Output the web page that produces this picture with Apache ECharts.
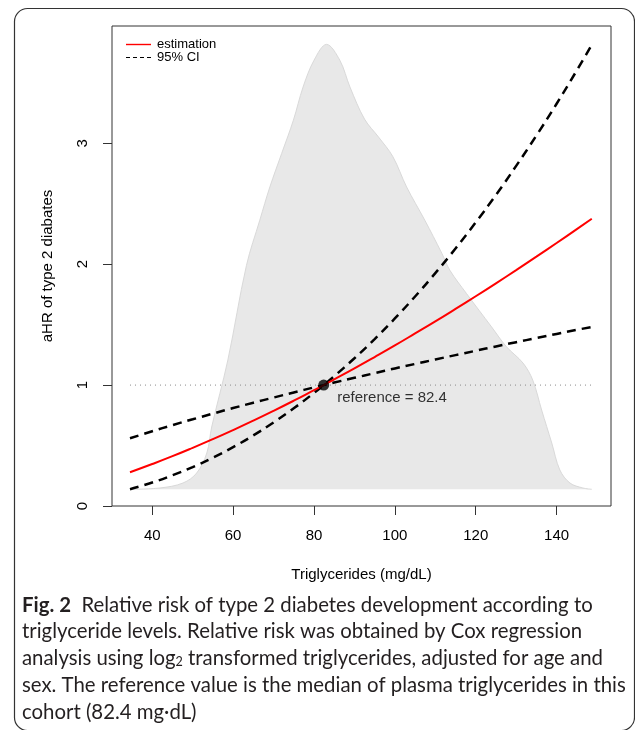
<!DOCTYPE html>
<html>
<head>
<meta charset="utf-8">
<script src="https://cdn.jsdelivr.net/npm/echarts@6/dist/echarts.min.js"></script>
<style>
  html, body { margin: 0; padding: 0; background: #fff; }
  #chart { width: 635px; height: 730px; }
</style>
</head>
<body>
<div id="chart"></div>
<script>
// triglycerides (mg/dL) where the curves were read
const tgGrid = [34.5, 40, 45, 50, 55, 60, 65, 70, 75, 80, 82.4, 85, 90, 95, 100,
  105, 110, 115, 120, 125, 130, 135, 140, 145, 148.7];
// adjusted hazard ratio, estimate
const hrEstimate = [0.279, 0.347, 0.412, 0.481, 0.553, 0.628, 0.706, 0.787, 0.871, 0.958, 1,
  1.047, 1.138, 1.232, 1.328, 1.427, 1.527, 1.630, 1.735, 1.842, 1.951, 2.062, 2.175, 2.290, 2.376];
// 95% CI bounds (they cross at the reference value)
const ciSteep = [0.139, 0.194, 0.254, 0.322, 0.400, 0.487, 0.584, 0.691, 0.808, 0.935, 1,
  1.073, 1.222, 1.381, 1.551, 1.733, 1.926, 2.130, 2.346, 2.573, 2.813, 3.064, 3.327, 3.603, 3.815];
const ciShallow = [0.560, 0.618, 0.669, 0.717, 0.764, 0.810, 0.854, 0.897, 0.939, 0.981, 1,
  1.021, 1.060, 1.099, 1.138, 1.175, 1.212, 1.248, 1.284, 1.320, 1.355, 1.389, 1.423, 1.457, 1.481];

// triglyceride distribution (grey density in the background)
const densityX = [34.5, 41.9, 47.6, 51.0, 53.5, 54.7, 58.7, 63.3, 66.6, 69.1, 72.0, 74.9, 77.3, 80.0,
  83.1, 86.4, 88.9, 92.5, 96.0, 99.5, 102.9, 107.4, 111.6, 113.6, 117.7, 123.9, 127.6, 131.7,
  134.1, 136.3, 138.8, 140.8, 143.3, 146.5, 148.7];
const densityY = [0.138, 0.149, 0.190, 0.273, 0.438, 0.653, 1.207, 1.99, 2.364, 2.640, 2.915, 3.190, 3.465, 3.686,
  3.818, 3.686, 3.465, 3.200, 3.050, 2.890, 2.639, 2.364, 2.091, 1.950, 1.758, 1.482, 1.317, 1.182,
  1.041, 0.793, 0.521, 0.298, 0.190, 0.149, 0.138];
const densityBase = 0.138;

const referenceTG = 82.4;
const xTicks = [40, 60, 80, 100, 120, 140];
const yTicks = [0, 1, 2, 3];

const captionLines = [
  '{b|Fig. 2}  Relative risk of type 2 diabetes development according to',
  'triglyceride levels. Relative risk was obtained by Cox regression',
  'analysis using log{sub|2} transformed triglycerides, adjusted for age and',
  'sex. The reference value is the median of plasma triglycerides in this',
  'cohort (82.4 mg\u00b7dL)'
];

const pairs = (xs, ys) => xs.map((x, i) => [x, ys[i]]);
const axisFont = 'Liberation Sans';
const captionFont = 'Lato';

// pick a caption size so the longest line spans the panel
function fitCaptionSize() {
  const ctx = document.createElement('canvas').getContext('2d');
  ctx.font = '20px ' + captionFont;
  const w = ctx.measureText(captionLines[3]).width;
  return Math.min(21, 20 * 604 / w);
}
const capSize = fitCaptionSize();
const capTop = 605;
const capStep = 26.8;

const chart = echarts.init(document.getElementById('chart'), null, { renderer: 'canvas' });

chart.setOption({
  animation: false,
  backgroundColor: '#fff',
  grid: { left: 112, right: 24, top: 26, bottom: 224, show: true, borderColor: '#333', borderWidth: 1 },
  legend: {
    orient: 'vertical',
    left: 121,
    top: 33,
    itemWidth: 25,
    itemHeight: 1.4,
    itemGap: 0,
    textStyle: { fontFamily: axisFont, fontSize: 13, color: '#000', padding: [0, 0, 0, 1] },
    data: [
      { name: 'estimation', icon: 'rect' },
      { name: '95% CI', icon: 'path://M0,0h4v1h-4z M7,0h4v1h-4z M14,0h4v1h-4z M21,0h4v1h-4z' }
    ]
  },
  xAxis: {
    type: 'value',
    min: 30.05,
    max: 153.45,
    name: 'Triglycerides (mg/dL)',
    nameLocation: 'middle',
    nameGap: 61,
    nameTextStyle: { fontFamily: axisFont, fontSize: 15, color: '#000' },
    axisLine: { show: false },
    axisTick: { show: true, inside: false, length: 9, customValues: xTicks, lineStyle: { color: '#333' } },
    axisLabel: { customValues: xTicks, margin: 22, fontFamily: axisFont, fontSize: 15, color: '#000' },
    splitLine: { show: false }
  },
  yAxis: {
    type: 'value',
    min: 0,
    max: 3.97,
    name: 'aHR of type 2 diabates',
    nameLocation: 'middle',
    nameGap: 57,
    nameTextStyle: { fontFamily: axisFont, fontSize: 15, color: '#000' },
    axisLine: { show: false },
    axisTick: { show: true, inside: false, length: 9, customValues: yTicks, lineStyle: { color: '#333' } },
    axisLabel: { customValues: yTicks, rotate: 90, margin: 22, fontFamily: axisFont, fontSize: 15, color: '#000' },
    splitLine: { show: false }
  },
  series: [
    {
      name: 'density',
      type: 'line',
      data: pairs(densityX, densityY),
      smooth: 0.35,
      symbol: 'none',
      itemStyle: { color: '#d9d9d9' },
      lineStyle: { color: '#d9d9d9', width: 1 },
      areaStyle: { color: '#e8e8e8', opacity: 1, origin: densityBase },
      z: 1
    },
    {
      name: 'ref line',
      type: 'line',
      data: [[tgGrid[0], 1], [tgGrid[tgGrid.length - 1], 1]],
      symbol: 'none',
      itemStyle: { color: '#888' },
      lineStyle: { color: '#888', width: 1, type: [1, 4] },
      z: 2
    },
    {
      name: '95% CI',
      type: 'line',
      data: pairs(tgGrid, ciSteep),
      smooth: true,
      symbol: 'none',
      itemStyle: { color: '#000' },
      lineStyle: { color: '#000', width: 2.5, type: [9, 6] },
      z: 3
    },
    {
      name: '95% CI',
      type: 'line',
      data: pairs(tgGrid, ciShallow),
      smooth: true,
      symbol: 'none',
      itemStyle: { color: '#000' },
      lineStyle: { color: '#000', width: 2.5, type: [9, 6] },
      z: 3
    },
    {
      name: 'estimation',
      type: 'line',
      data: pairs(tgGrid, hrEstimate),
      smooth: true,
      symbol: 'none',
      itemStyle: { color: '#ff0000' },
      lineStyle: { color: '#ff0000', width: 2 },
      z: 4
    },
    {
      name: 'reference',
      type: 'scatter',
      data: [[referenceTG, 1]],
      symbolSize: 11,
      itemStyle: { color: '#000' },
      label: {
        show: true,
        position: 'right',
        offset: [3, 13],
        formatter: 'reference = ' + referenceTG,
        fontFamily: axisFont,
        fontSize: 15,
        color: '#000'
      },
      z: 5
    }
  ],
  graphic: [
    {
      type: 'rect',
      shape: { x: 14.5, y: 8.5, width: 620, height: 722, r: 13 },
      style: { fill: 'none', stroke: '#333', lineWidth: 1.2 },
      silent: true
    }
  ].concat(captionLines.map((line, i) => ({
    type: 'text',
    x: 22,
    y: capTop + i * capStep,
    silent: true,
    style: {
      text: line,
      fontFamily: captionFont,
      fontSize: capSize,
      fill: '#231f20',
      verticalAlign: 'middle',
      rich: {
        b: { fontFamily: captionFont, fontSize: capSize, fontWeight: 'bold', fill: '#231f20' },
        sub: { fontFamily: captionFont, fontSize: capSize * 0.62, fill: '#231f20', verticalAlign: 'bottom', lineHeight: 18 }
      }
    }
  })))
});

window.addEventListener('resize', () => chart.resize());
</script>
</body>
</html>
